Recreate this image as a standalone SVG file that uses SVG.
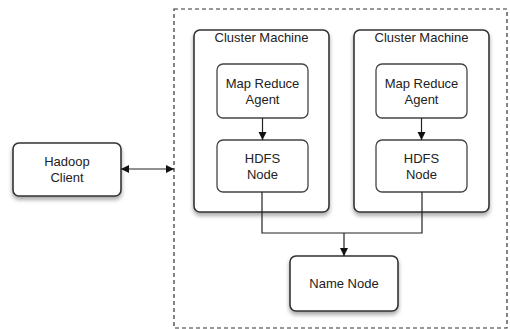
<svg xmlns="http://www.w3.org/2000/svg" width="510" height="329" viewBox="0 0 510 329">
<defs>
<filter id="sh" x="-10%" y="-10%" width="130%" height="140%">
<feDropShadow dx="0" dy="3" stdDeviation="2" flood-color="#000" flood-opacity="0.35"/>
</filter>
<marker id="ah" viewBox="0 0 10 10" refX="10" refY="5" markerWidth="7" markerHeight="7" orient="auto-start-reverse">
<path d="M0,0 L10,5 L0,10 z" fill="#111"/>
</marker>
<style>
.box{fill:#fff;stroke:#333;stroke-width:1.6;filter:url(#sh)}
.ibox{fill:#fff;stroke:#444;stroke-width:1.3}
.t{font-family:"Liberation Sans",Arial,sans-serif;font-size:13px;fill:#222;text-anchor:middle}
.c{fill:none;stroke:#222;stroke-width:1.2}
</style>
</defs>
<rect width="510" height="329" fill="#fff"/>
<g id="cluster-boundary">
<rect x="174" y="9" width="333" height="319" fill="none" stroke="#333" stroke-width="1.2" stroke-dasharray="4,3"/>
</g>
<g id="hadoop-client">
<rect class="box" x="13" y="143" width="108" height="53" rx="6"/>
<text class="t" x="67" y="166">Hadoop</text>
<text class="t" x="67" y="182">Client</text>
</g>
<g id="cluster-machine-1">
<rect class="box" x="194" y="30" width="135" height="182" rx="6"/>
<text class="t" x="261.5" y="42">Cluster Machine</text>
</g>
<g id="cluster-machine-2">
<rect class="box" x="354" y="30" width="135" height="182" rx="6"/>
<text class="t" x="421.5" y="42">Cluster Machine</text>
</g>
<g id="map-reduce-agent-1">
<rect class="ibox" x="217" y="64" width="91" height="54" rx="6"/>
<text class="t" x="262.5" y="88">Map Reduce</text>
<text class="t" x="262.5" y="104">Agent</text>
</g>
<g id="map-reduce-agent-2">
<rect class="ibox" x="376" y="64" width="91" height="54" rx="6"/>
<text class="t" x="421.5" y="88">Map Reduce</text>
<text class="t" x="421.5" y="104">Agent</text>
</g>
<g id="hdfs-node-1">
<rect class="ibox" x="217" y="140" width="91" height="52" rx="6"/>
<text class="t" x="262.5" y="163">HDFS</text>
<text class="t" x="262.5" y="179">Node</text>
</g>
<g id="hdfs-node-2">
<rect class="ibox" x="376" y="140" width="91" height="52" rx="6"/>
<text class="t" x="421.5" y="163">HDFS</text>
<text class="t" x="421.5" y="179">Node</text>
</g>
<g id="name-node">
<rect class="box" x="290" y="256" width="108" height="55" rx="6"/>
<text class="t" x="344" y="288">Name Node</text>
</g>
<g id="connectors">
<path class="c" d="M121,169 H174" marker-start="url(#ah)" marker-end="url(#ah)"/>
<path class="c" d="M262.5,118 V140" marker-end="url(#ah)"/>
<path class="c" d="M421.5,118 V140" marker-end="url(#ah)"/>
<path class="c" d="M262,192 V233 H422 V192"/>
<path class="c" d="M344,233 V256" marker-end="url(#ah)"/>
</g>
</svg>
